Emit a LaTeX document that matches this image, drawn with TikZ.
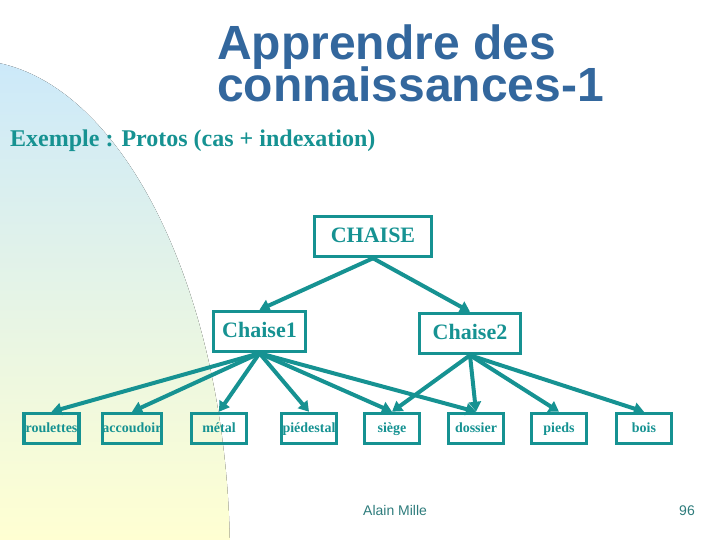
\documentclass[tikz,border=0pt]{standalone}
\usepackage{fontspec}
\setmainfont{Liberation Serif}
\setsansfont{Liberation Sans}
\usetikzlibrary{arrows.meta}
\definecolor{tealline}{HTML}{169292}
\definecolor{titleblue}{HTML}{33679D}
\definecolor{footgray}{HTML}{2E7C7C}
\definecolor{bgblue}{HTML}{CCE9FA}
\definecolor{bgyellow}{HTML}{FFFFD2}

\begin{document}
\begin{tikzpicture}[x=1pt,y=-1pt,
    bigbox/.style={draw=tealline, line width=3.5pt, text=tealline, inner sep=0pt,
        minimum height=40pt, text height=15pt, text depth=3pt,
        font=\bfseries\fontsize{22}{24}\selectfont},
    leafbox/.style={draw=tealline, line width=3.5pt, text=tealline, inner sep=0pt,
        minimum width=55pt, minimum height=30pt, text height=10pt, text depth=3pt,
        font=\bfseries\fontsize{14}{16}\selectfont},
    link/.style={draw=tealline, line width=4pt, -{Triangle[length=10pt,width=12pt]}}]
            \useasboundingbox (0,0) rectangle (720,540);

            \begin{scope}
                \clip (-30,560) ellipse [x radius=260, y radius=500];
                \fill[top color=bgblue, bottom color=bgyellow] (0,60) rectangle (240,540);
            \end{scope}

            \node[anchor=base west, text=titleblue, font=\sffamily\bfseries\fontsize{48}{48}\selectfont, inner sep=0pt] (title1) at (217,60) {Apprendre des};
            \node[anchor=base west, text=titleblue, font=\sffamily\bfseries\fontsize{48}{48}\selectfont, inner sep=0pt] (title2) at (217,102) {connaissances-1};
            \node[anchor=base west, text=tealline, font=\bfseries\fontsize{24}{26}\selectfont, inner sep=0pt] (exemple) at (10,147) {Exemple : Protos (cas + indexation)};

            \node[bigbox, minimum width=117pt] (chaise) at (373,236.5) {CHAISE};
            \node[bigbox, minimum width=92pt] (chaise1) at (259.5,331.5) {Chaise1};
            \node[bigbox, minimum width=101pt] (chaise2) at (470,333.5) {Chaise2};

            \node[leafbox] (roulettes) at (51.5,428.5) {roulettes};
            \node[leafbox] (accoudoir) at (132,428.5) {accoudoir};
            \node[leafbox] (metal) at (219,428.5) {métal};
            \node[leafbox] (piedestal) at (309,428.5) {piédestal};
            \node[leafbox] (siege) at (392,428.5) {siège};
            \node[leafbox] (dossier) at (476,428.5) {dossier};
            \node[leafbox] (pieds) at (559,428.5) {pieds};
            \node[leafbox] (bois) at (644,428.5) {bois};

            \draw[link] (chaise.south) -- (chaise1.north);
            \draw[link] (chaise.south) -- (chaise2.north);

            \foreach \leaf in {roulettes, accoudoir, metal, piedestal, siege, dossier}
                \draw[link] (chaise1.south) -- (\leaf.north);
            \foreach \leaf in {siege, dossier, pieds, bois}
                \draw[link] (chaise2.south) -- (\leaf.north);

            \node[anchor=base west, text=footgray, font=\sffamily\fontsize{14}{16}\selectfont, inner sep=0pt] (auteur) at (363,515) {Alain Mille};
            \node[anchor=base east, text=footgray, font=\sffamily\fontsize{14}{16}\selectfont, inner sep=0pt] (page) at (695,515) {96};
        \end{tikzpicture}
\end{document}
